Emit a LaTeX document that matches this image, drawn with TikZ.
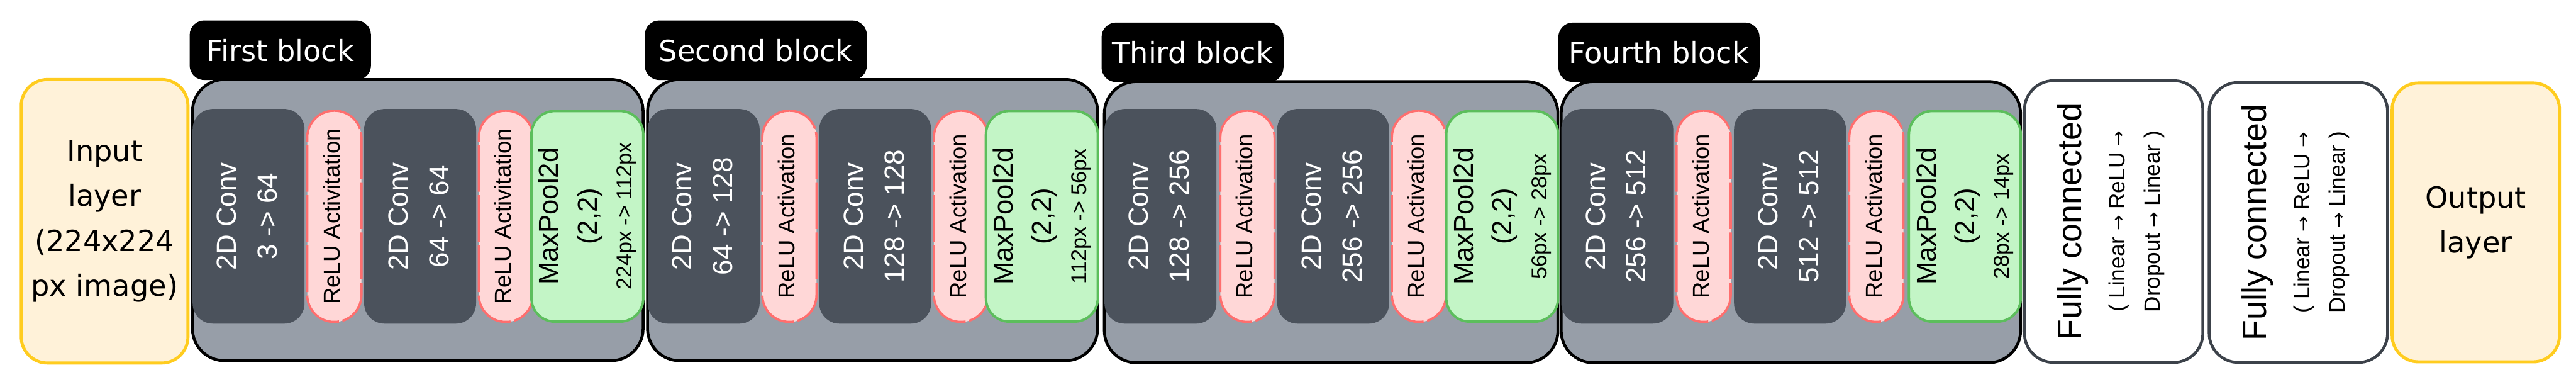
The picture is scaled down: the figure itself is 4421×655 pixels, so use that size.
\documentclass[tikz,border=0pt]{standalone}
\usepackage{fontspec}
\setmainfont{Liberation Sans}
\newfontfamily\dejavu{DejaVu Sans}
\usepackage{graphicx}
\usepackage{xcolor}
\usepackage{tikz}
\usetikzlibrary{positioning}

\definecolor{incream}{HTML}{FFF2D9}
\definecolor{inyellow}{HTML}{FFCC1F}
\definecolor{blockgray}{HTML}{979EA8}
\definecolor{convgray}{HTML}{4B525C}
\definecolor{relupink}{HTML}{FFD7D7}
\definecolor{relured}{HTML}{FF6E6E}
\definecolor{poolgreen}{HTML}{C3F5C6}
\definecolor{poolline}{HTML}{5CBE5C}
\definecolor{fcline}{HTML}{3C424A}

\newcommand{\vtext}[1]{\rotatebox{90}{\begin{tabular}{@{}c@{}}#1\end{tabular}}}
\newcommand{\rarr}{{\dejavu\fontsize{9}{10}\selectfont →}}

\begin{document}
\begin{tikzpicture}[
  x=0.01cm, y=-0.01cm,
  layerbox/.style={draw=inyellow, line width=1.5pt, fill=incream, rounded corners=0.45cm,
                   minimum width=2.86cm, minimum height=4.86cm, inner sep=0pt, align=center,
                   font=\dejavu\fontsize{14.2}{21.9}\selectfont},
  blockbox/.style={draw=black, line width=1.4pt, fill=blockgray, rounded corners=0.55cm,
                   minimum width=#1, minimum height=4.82cm, inner sep=0pt},
  blocktag/.style={fill=black, text=white, rounded corners=0.25cm, minimum width=#1,
                   minimum height=1.02cm, inner sep=0pt, anchor=south west,
                   xshift=-0.03cm, yshift=-0.04cm,
                   font=\dejavu\fontsize{14.2}{17}\selectfont},
  convbox/.style={fill=convgray, text=white, rounded corners=0.35cm, minimum width=1.92cm,
                  minimum height=3.68cm, inner sep=0pt, font=\fontsize{13.5}{19.9}\selectfont},
  relubox/.style={fill=relupink, draw=relured, line width=1.1pt,
                  dash pattern=on 0.8cm off 0.06cm, rounded corners=0.46cm,
                  minimum width=0.93cm, minimum height=3.62cm, inner sep=0pt,
                  font=\fontsize{11.2}{13}\selectfont},
  poolbox/.style={fill=poolgreen, draw=poolline, line width=1.2pt, rounded corners=0.4cm,
                  minimum width=1.88cm, minimum height=3.61cm, inner sep=0pt,
                  font=\fontsize{13.4}{18.8}\selectfont},
  fcbox/.style={draw=fcline, line width=1.4pt, fill=white, rounded corners=0.5cm,
                minimum width=3.06cm, minimum height=4.83cm, inner sep=0pt,
                font=\fontsize{10.8}{17.1}\selectfont},
]

\fill[white] (0,0) rectangle (4421,655);
\useasboundingbox (0,0) rectangle (4421,655);

%% --- Input / output ---
\node[layerbox] (input) at (179.5,379.5) {Input\\layer\\(224x224\\px image)};
\node[layerbox, minimum width=2.87cm, minimum height=4.78cm] (output) at (4249,381.5)
      {Output\\layer};

%% --- Blocks ---
\node[blockbox=7.73cm] (blk1) at (717,377.5) {};
\node[blockbox=7.72cm] (blk2) at (1497.5,377.5) {};
\node[blockbox=7.78cm] (blk3) at (2284.5,381) {};
\node[blockbox=7.88cm] (blk4) at (3073.5,381) {};

\node[blocktag=3.11cm] (tag1) at (blk1.north west) {First block};
\node[blocktag=3.81cm] (tag2) at (blk2.north west) {Second block};
\node[blocktag=3.12cm] (tag3) at (blk3.north west) {Third block};
\node[blocktag=3.45cm] (tag4) at (blk4.north west) {Fourth block};

%% --- First block ---
\node[convbox, right=0.02cm of blk1.west, yshift=0.065cm] (conv1a)
      {\vtext{2D Conv\\3 -> 64}};
\node[relubox, right=0.02cm of conv1a] (relu1a) {\vtext{ReLU Activitation}};
\node[convbox, right=0.02cm of relu1a] (conv1b) {\vtext{2D Conv\\64 -> 64}};
\node[relubox, right=0.02cm of conv1b] (relu1b) {\vtext{ReLU Activitation}};
\node[poolbox, left=0cm of blk1.east, yshift=0.065cm] (pool1)
      {\vtext{MaxPool2d\\(2,2)\\[-1.8pt]{\fontsize{10.5}{12}\selectfont 224px -> 112px}}};

%% --- Second block ---
\node[convbox, right=0.02cm of blk2.west, yshift=0.065cm] (conv2a)
      {\vtext{2D Conv\\64 -> 128}};
\node[relubox, right=0.02cm of conv2a] (relu2a) {\vtext{ReLU Activation}};
\node[convbox, right=0.02cm of relu2a] (conv2b) {\vtext{2D Conv\\128 -> 128}};
\node[relubox, right=0.02cm of conv2b] (relu2b) {\vtext{ReLU Activation}};
\node[poolbox, left=0cm of blk2.east, yshift=0.065cm] (pool2)
      {\vtext{MaxPool2d\\(2,2)\\[-1.8pt]{\fontsize{10.5}{12}\selectfont 112px -> 56px}}};

%% --- Third block ---
\node[convbox, right=0.02cm of blk3.west, yshift=0.1cm] (conv3a)
      {\vtext{2D Conv\\128 -> 256}};
\node[relubox, right=0.04cm of conv3a] (relu3a) {\vtext{ReLU Activation}};
\node[convbox, right=0.02cm of relu3a] (conv3b) {\vtext{2D Conv\\256 -> 256}};
\node[relubox, right=0.02cm of conv3b] (relu3b) {\vtext{ReLU Activation}};
\node[poolbox, left=0cm of blk3.east, yshift=0.1cm] (pool3)
      {\vtext{MaxPool2d\\(2,2)\\[-1.8pt]{\fontsize{10.5}{12}\selectfont 56px -> 28px}}};

%% --- Fourth block ---
\node[convbox, right=0.02cm of blk4.west, yshift=0.1cm] (conv4a)
      {\vtext{2D Conv\\256 -> 512}};
\node[relubox, right=0.03cm of conv4a] (relu4a) {\vtext{ReLU Activation}};
\node[convbox, right=0.03cm of relu4a] (conv4b) {\vtext{2D Conv\\512 -> 512}};
\node[relubox, right=0.03cm of conv4b] (relu4b) {\vtext{ReLU Activation}};
\node[poolbox, left=0cm of blk4.east, yshift=0.1cm] (pool4)
      {\vtext{MaxPool2d\\(2,2)\\[-1.8pt]{\fontsize{10.5}{12}\selectfont 28px -> 14px}}};

%% --- Fully connected ---
\node[fcbox] (fc1) at (3627.5,380)
      {\vtext{{\fontsize{16.5}{20}\selectfont Fully connected}\\[4.2pt]
              ( Linear \rarr{} ReLU \rarr\\Dropout \rarr{} Linear )}};
\node[fcbox, minimum height=4.80cm] (fc2) at (3944.5,381.5)
      {\vtext{{\fontsize{16.5}{20}\selectfont Fully connected}\\[4.2pt]
              ( Linear \rarr{} ReLU \rarr\\Dropout \rarr{} Linear )}};

\end{tikzpicture}
\end{document}
